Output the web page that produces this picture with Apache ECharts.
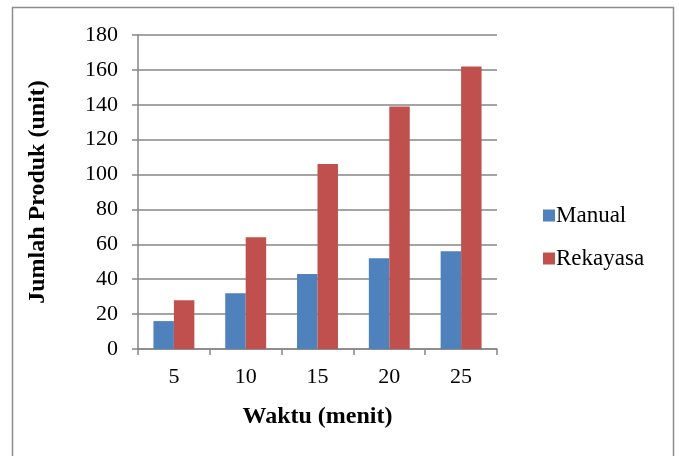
<!DOCTYPE html>
<html>
<head>
<meta charset="utf-8">
<script src="https://cdn.jsdelivr.net/npm/echarts@6/dist/echarts.min.js"></script>
<style>
  html, body { margin: 0; padding: 0; background: #fff; }
  #chart { width: 679px; height: 456px; }
</style>
</head>
<body>
<div id="chart"></div>
<script>
// Production counts over time: manual process vs. engineered process
const categories = ['5', '10', '15', '20', '25'];
const manual = [16, 32, 43, 52, 56];
const rekayasa = [28, 64, 106, 139, 162];
const seriesNames = ['Manual', 'Rekayasa'];
const xTitle = 'Waktu (menit)';
const yTitle = 'Jumlah Produk (unit)';

const font = '"Liberation Serif", "Times New Roman", serif';
const gridColor = '#868686';

const chart = echarts.init(document.getElementById('chart'), null, { renderer: 'canvas' });
chart.setOption({
  animation: false,
  backgroundColor: '#fff',
  graphic: [{
    type: 'rect',
    shape: { x: 12.5, y: 7.5, width: 661, height: 470 },
    style: { fill: 'none', stroke: '#8c8c8c', lineWidth: 1.5 },
    silent: true
  }],
  grid: { left: 138, right: 182, top: 35, bottom: 107 },
  legend: {
    orient: 'vertical',
    left: 538,
    top: 199,
    itemWidth: 12,
    itemHeight: 12,
    itemGap: 20,
    icon: 'rect',
    textStyle: { fontFamily: font, fontSize: 23, color: '#000', padding: [0, 0, 0, -4] },
    data: seriesNames
  },
  xAxis: {
    type: 'category',
    data: categories,
    name: xTitle,
    nameLocation: 'middle',
    nameGap: 56,
    nameTextStyle: { fontFamily: font, fontSize: 24, fontWeight: 'bold', color: '#000' },
    axisLine: { lineStyle: { color: gridColor, width: 1.5 } },
    axisTick: { show: true, length: 6, alignWithLabel: false, lineStyle: { color: gridColor, width: 1.5 } },
    axisLabel: { fontFamily: font, fontSize: 22, color: '#000', margin: 17 },
    splitLine: { show: false }
  },
  yAxis: {
    type: 'value',
    min: 0,
    max: 180,
    interval: 20,
    name: yTitle,
    nameLocation: 'middle',
    nameGap: 88,
    nameTextStyle: { fontFamily: font, fontSize: 24, fontWeight: 'bold', color: '#000' },
    axisLine: { show: true, lineStyle: { color: gridColor, width: 1.5 } },
    axisTick: { show: true, length: 6, lineStyle: { color: gridColor, width: 1.5 } },
    axisLabel: { fontFamily: font, fontSize: 22, color: '#000', margin: 20 },
    splitLine: { show: true, lineStyle: { color: gridColor, width: 1.5 } }
  },
  series: [
    {
      name: seriesNames[0],
      type: 'bar',
      data: manual,
      barGap: '0%',
      barCategoryGap: '43%',
      itemStyle: { color: '#4F81BD' }
    },
    {
      name: seriesNames[1],
      type: 'bar',
      data: rekayasa,
      barGap: '0%',
      barCategoryGap: '43%',
      itemStyle: { color: '#C0504D' }
    }
  ]
});
</script>
</body>
</html>
